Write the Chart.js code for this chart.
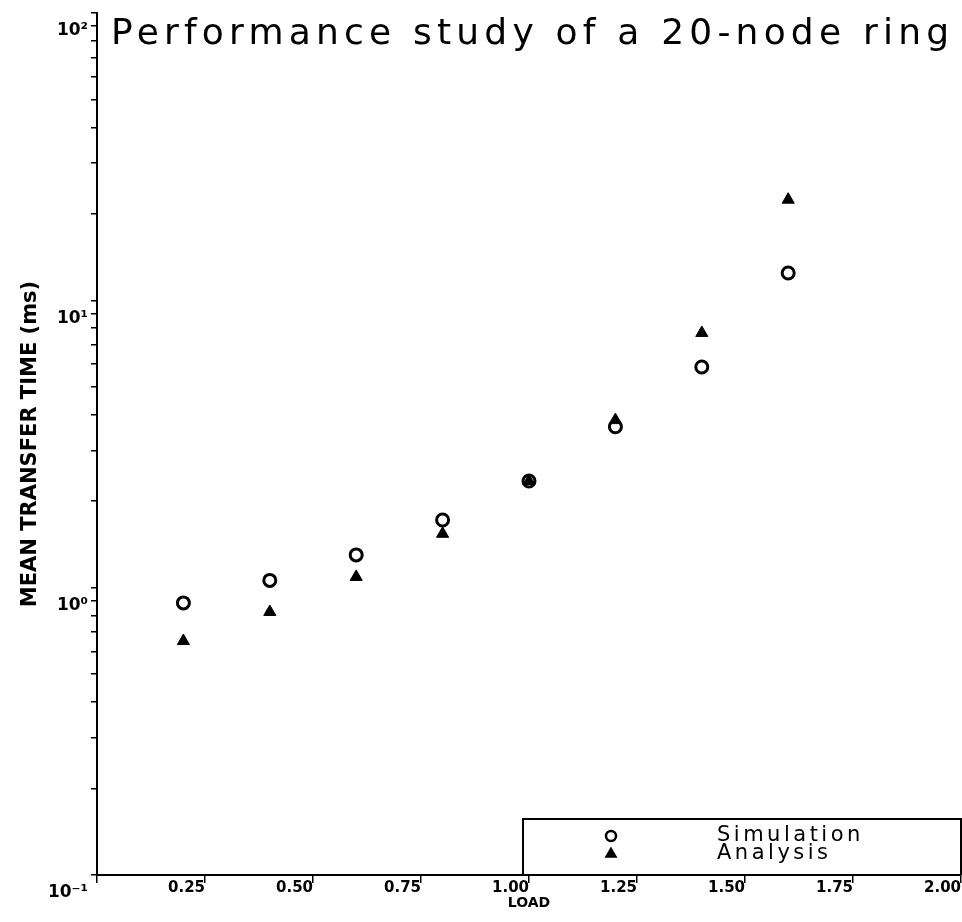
<!DOCTYPE html>
<html>
<head>
<meta charset="utf-8">
<script src="https://cdn.jsdelivr.net/npm/chart.js@4.4.1/dist/chart.umd.min.js"></script>
<style>
  html, body { margin: 0; padding: 0; background: #fff; }
  #wrap { width: 962px; height: 922px; }
</style>
</head>
<body>
<div id="wrap"><canvas id="ringChart"></canvas></div>
<script>
const chartTitle = 'Performance study of a 20-node ring';
const loads = [0.2, 0.4, 0.6, 0.8, 1.0, 1.2, 1.4, 1.6];
const simulationTimes = [0.885, 1.06, 1.30, 1.72, 2.35, 3.63, 5.86, 12.45];
const analysisTimes = [0.652, 0.823, 1.09, 1.54, 2.35, 3.83, 7.70, 22.4];
const xTickValues = [0.25, 0.5, 0.75, 1.0, 1.25, 1.5, 1.75, 2.0];
const xTickLabels = ['0.25', '0.50', '0.75', '1.00', '1.25', '1.50', '1.75', '2.00'];
const yMajorValues = [0.1, 1, 10, 100];
const yMajorLabels = ['10⁻¹', '10⁰', '10¹', '10²'];

// title drawn by hand so the letters can be spread like the plotter font
const titlePlugin = {
    id: 'plotTitle',
    afterDraw(chart) {
        const ctx = chart.ctx;
        ctx.save();
        ctx.font = '36px "DejaVu Sans"';
        ctx.fillStyle = '#000';
        ctx.textAlign = 'left';
        ctx.textBaseline = 'alphabetic';
        ctx.letterSpacing = '0px';
        const w = ctx.measureText(chartTitle).width;
        const gap = Math.max(0, (838 - w) / (chartTitle.length - 1));
        ctx.letterSpacing = gap + 'px';
        ctx.fillText(chartTitle, 111, 44);
        ctx.restore();
    }
};

// boxed legend sitting on the x axis, bottom right
const boxLegend = {
    id: 'boxLegend',
    afterDraw(chart) {
        const ctx = chart.ctx;
        const area = chart.chartArea;
        const left = area.right - 438;
        const top = area.bottom - 56;
        ctx.save();
        ctx.strokeStyle = '#000';
        ctx.lineWidth = 2;
        ctx.beginPath();
        ctx.moveTo(left, area.bottom);
        ctx.lineTo(left, top);
        ctx.lineTo(area.right, top);
        ctx.lineTo(area.right, area.bottom);
        ctx.stroke();

        chart.data.datasets.forEach((ds, i) => {
            const y = top + 17 + i * 18;
            ctx.fillStyle = ds.pointBackgroundColor;
            ctx.strokeStyle = ds.pointBorderColor;
            ctx.lineWidth = 2.5;
            Chart.helpers.drawPoint(ctx, {
                pointStyle: ds.pointStyle,
                radius: 5,
                borderWidth: 2.5
            }, left + 88, y);
            ctx.font = '21px "DejaVu Sans"';
            ctx.textBaseline = 'middle';
            ctx.textAlign = 'left';
            ctx.letterSpacing = '3.5px';
            ctx.fillStyle = '#000';
            ctx.fillText(ds.label, left + 194, y);
        });
        ctx.restore();
    }
};

const ctx = document.getElementById('ringChart').getContext('2d');
new Chart(ctx, {
    type: 'scatter',
    data: {
        datasets: [{
            label: 'Simulation',
            data: loads.map((x, i) => ({ x: x, y: simulationTimes[i] })),
            order: 1,
            pointStyle: 'circle',
            pointRadius: 6,
            pointBorderWidth: 3,
            pointBackgroundColor: '#fff',
            pointBorderColor: '#000'
        }, {
            label: 'Analysis',
            data: loads.map((x, i) => ({ x: x, y: analysisTimes[i] })),
            order: 0,
            pointStyle: 'triangle',
            pointRadius: 7,
            pointBorderWidth: 1,
            pointBackgroundColor: '#000',
            pointBorderColor: '#000'
        }]
    },
    options: {
        responsive: true,
        maintainAspectRatio: false,
        animation: false,
        layout: { autoPadding: false, padding: { left: 0, right: 1, top: 13, bottom: 0 } },
        plugins: {
            legend: { display: false },
            tooltip: { enabled: false },
            title: { display: false }
        },
        scales: {
            x: {
                type: 'linear',
                min: 0,
                max: 2,
                afterBuildTicks: (scale) => {
                    scale.ticks = [0].concat(xTickValues).map(v => ({ value: v }));
                },
                afterFit: (scale) => {
                    scale.height = 47;
                    scale.paddingLeft = 0;
                    scale.paddingRight = 0;
                },
                grid: { drawOnChartArea: false, color: '#000', lineWidth: 1.5, tickLength: 8 },
                border: { color: '#000', width: 2 },
                ticks: {
                    align: 'end',
                    padding: -4,
                    color: '#000',
                    font: { family: 'DejaVu Sans', size: 15, weight: 'bold' },
                    callback: (value) => {
                        const i = xTickValues.findIndex(v => Math.abs(v - value) < 1e-9);
                        return i >= 0 ? xTickLabels[i] : '';
                    }
                },
                title: {
                    display: true,
                    text: 'LOAD',
                    color: '#000',
                    font: { family: 'DejaVu Sans', size: 14, weight: 'bold' },
                    padding: { top: 0, bottom: 10 }
                }
            },
            y: {
                type: 'logarithmic',
                min: 0.1,
                max: 100,
                afterBuildTicks: (scale) => {
                    const ticks = [];
                    for (let e = -1; e <= 1; e++) {
                        for (let s = 1; s <= 9; s++) {
                            ticks.push({ value: s * Math.pow(10, e) });
                        }
                    }
                    ticks.push({ value: 100 });
                    scale.ticks = ticks;
                },
                afterFit: (scale) => {
                    scale.width = 97;
                    scale.paddingTop = 0;
                    scale.paddingBottom = 0;
                },
                grid: { drawOnChartArea: false, color: '#000', lineWidth: 1.5, tickLength: 6 },
                border: { color: '#000', width: 2 },
                ticks: {
                    padding: 3,
                    labelOffset: 18,
                    autoSkip: false,
                    color: '#000',
                    font: { family: 'DejaVu Sans', size: 17, weight: 'bold' },
                    callback: (value) => {
                        const i = yMajorValues.findIndex(v => Math.abs(v - value) / v < 1e-6);
                        return i >= 0 ? yMajorLabels[i] : '';
                    }
                },
                title: {
                    display: true,
                    text: 'MEAN TRANSFER TIME (ms)',
                    color: '#000',
                    font: { family: 'DejaVu Sans', size: 21, weight: 'bold' },
                    padding: { top: 18, bottom: 0 }
                }
            }
        }
    },
    plugins: [titlePlugin, boxLegend]
});
</script>
</body>
</html>
